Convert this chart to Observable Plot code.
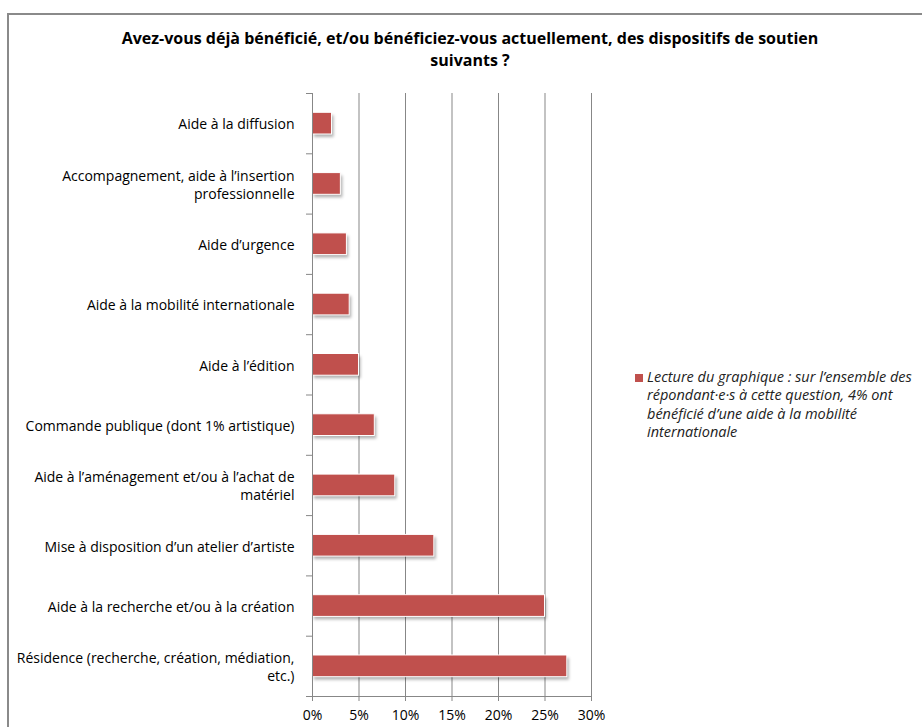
<!DOCTYPE html>
<html><head><meta charset="utf-8">
<script src="https://cdn.jsdelivr.net/npm/d3@7"></script>
<script src="https://cdn.jsdelivr.net/npm/@observablehq/plot@0.6"></script>
<style>
body{margin:0;background:#fff;}
#wrap{position:relative;width:922px;height:727px;overflow:hidden;font-family:"Open Sans",sans-serif;}
#frame{position:absolute;left:7px;top:13px;width:1000px;height:1000px;border-left:2px solid #8a8a8a;border-top:2px solid #8a8a8a;}
#chart{position:absolute;left:0;top:0;}
#title{position:absolute;left:70px;width:800px;top:27px;text-align:center;font-weight:bold;font-size:16px;line-height:22px;color:#000;}
#legend{position:absolute;left:635px;top:368px;width:285px;display:flex;align-items:flex-start;}
#legend .sw{width:8px;height:8px;background:#C0504D;margin-top:6px;margin-right:4px;flex:none;}
#legend .tx{font-style:italic;font-size:14.5px;line-height:18.3px;color:#222;white-space:nowrap;}
</style></head>
<body>
<div id="wrap">
  <div id="frame"></div>
  <div id="chart"></div>
  <div id="title"></div>
  <div id="legend"><div class="sw"></div><div class="tx"></div></div>
</div>
<script>
const titleText = "Avez-vous déjà bénéficié, et/ou bénéficiez-vous actuellement, des dispositifs de soutien<br>suivants ?";
const legendText = "Lecture du graphique : sur l’ensemble des<br>répondant·e·s à cette question, 4% ont<br>bénéficié d’une aide à la mobilité<br>internationale";

const categories = [
  "Aide à la diffusion",
  "Accompagnement, aide à l’insertion professionnelle",
  "Aide d’urgence",
  "Aide à la mobilité internationale",
  "Aide à l’édition",
  "Commande publique (dont 1% artistique)",
  "Aide à l’aménagement et/ou à l’achat de matériel",
  "Mise à disposition d’un atelier d’artiste",
  "Aide à la recherche et/ou à la création",
  "Résidence (recherche, création, médiation, etc.)"
];
const tickLabels = [
  "Aide à la diffusion",
  "Accompagnement, aide à l’insertion\nprofessionnelle",
  "Aide d’urgence",
  "Aide à la mobilité internationale",
  "Aide à l’édition",
  "Commande publique (dont 1% artistique)",
  "Aide à l’aménagement et/ou à l’achat de\nmatériel",
  "Mise à disposition d’un atelier d’artiste",
  "Aide à la recherche et/ou à la création",
  "Résidence (recherche, création, médiation,\netc.)"
];
const values = [2.1, 3.05, 3.7, 4.0, 5.0, 6.7, 8.9, 13.1, 25.0, 27.4];
const xTicks = [0, 5, 10, 15, 20, 25, 30];

document.getElementById("title").innerHTML = titleText;
document.querySelector("#legend .tx").innerHTML = legendText;

const data = categories.map((c, i) => ({c, i, v: values[i]}));
const half = 0.18;
const gridColor = "#878787";
const bounds = d3.range(categories.length + 1).map(k => k - 0.5);

const chart = Plot.plot({
  width: 922, height: 727,
  marginLeft: 312, marginRight: 331, marginTop: 93, marginBottom: 31,
  style: {fontFamily: "'Open Sans', sans-serif", fontSize: "14px", background: "transparent"},
  x: {domain: [0, 30], label: null},
  y: {domain: [categories.length - 0.5, -0.5], label: null},
  marks: [
    Plot.gridX(xTicks, {stroke: gridColor, strokeOpacity: 1}),
    Plot.rectX(data, {x1: 0, x2: "v", y1: d => d.i - half, y2: d => d.i + half, fill: "#000", fillOpacity: 0.3, dx: 2, dy: 3}),
    Plot.rectX(data, {x1: 0, x2: "v", y1: d => d.i - half, y2: d => d.i + half, fill: "#C0504D", stroke: "white", strokeWidth: 1}),
    Plot.ruleX([0], {stroke: gridColor}),
    Plot.ruleY([categories.length - 0.5], {stroke: gridColor}),
    Plot.axisY(bounds, {tickSize: 6, tickFormat: () => "", stroke: gridColor, label: null}),
    Plot.axisY(d3.range(categories.length), {tickSize: 0, tickPadding: 18, tickFormat: i => tickLabels[i], fill: "#000", fontSize: 14, lineHeight: 1.3, label: null}),
    Plot.axisX(xTicks, {tickSize: 5, tickPadding: 9, tickFormat: d => d + "%", stroke: gridColor, fill: "#000", fontSize: 14, label: null})
  ]
});
document.getElementById("chart").appendChild(chart);

// soft drop shadow on the shadow rects
const ns = "http://www.w3.org/2000/svg";
const defs = document.createElementNS(ns, "defs");
defs.innerHTML = '<filter id="blur" x="-20%" y="-50%" width="140%" height="200%"><feGaussianBlur stdDeviation="1.5"/></filter>';
chart.insertBefore(defs, chart.firstChild);
const rectGroups = chart.querySelectorAll('g[aria-label="rect"]');
if (rectGroups.length) rectGroups[0].setAttribute("filter", "url(#blur)");
</script>
</body></html>
